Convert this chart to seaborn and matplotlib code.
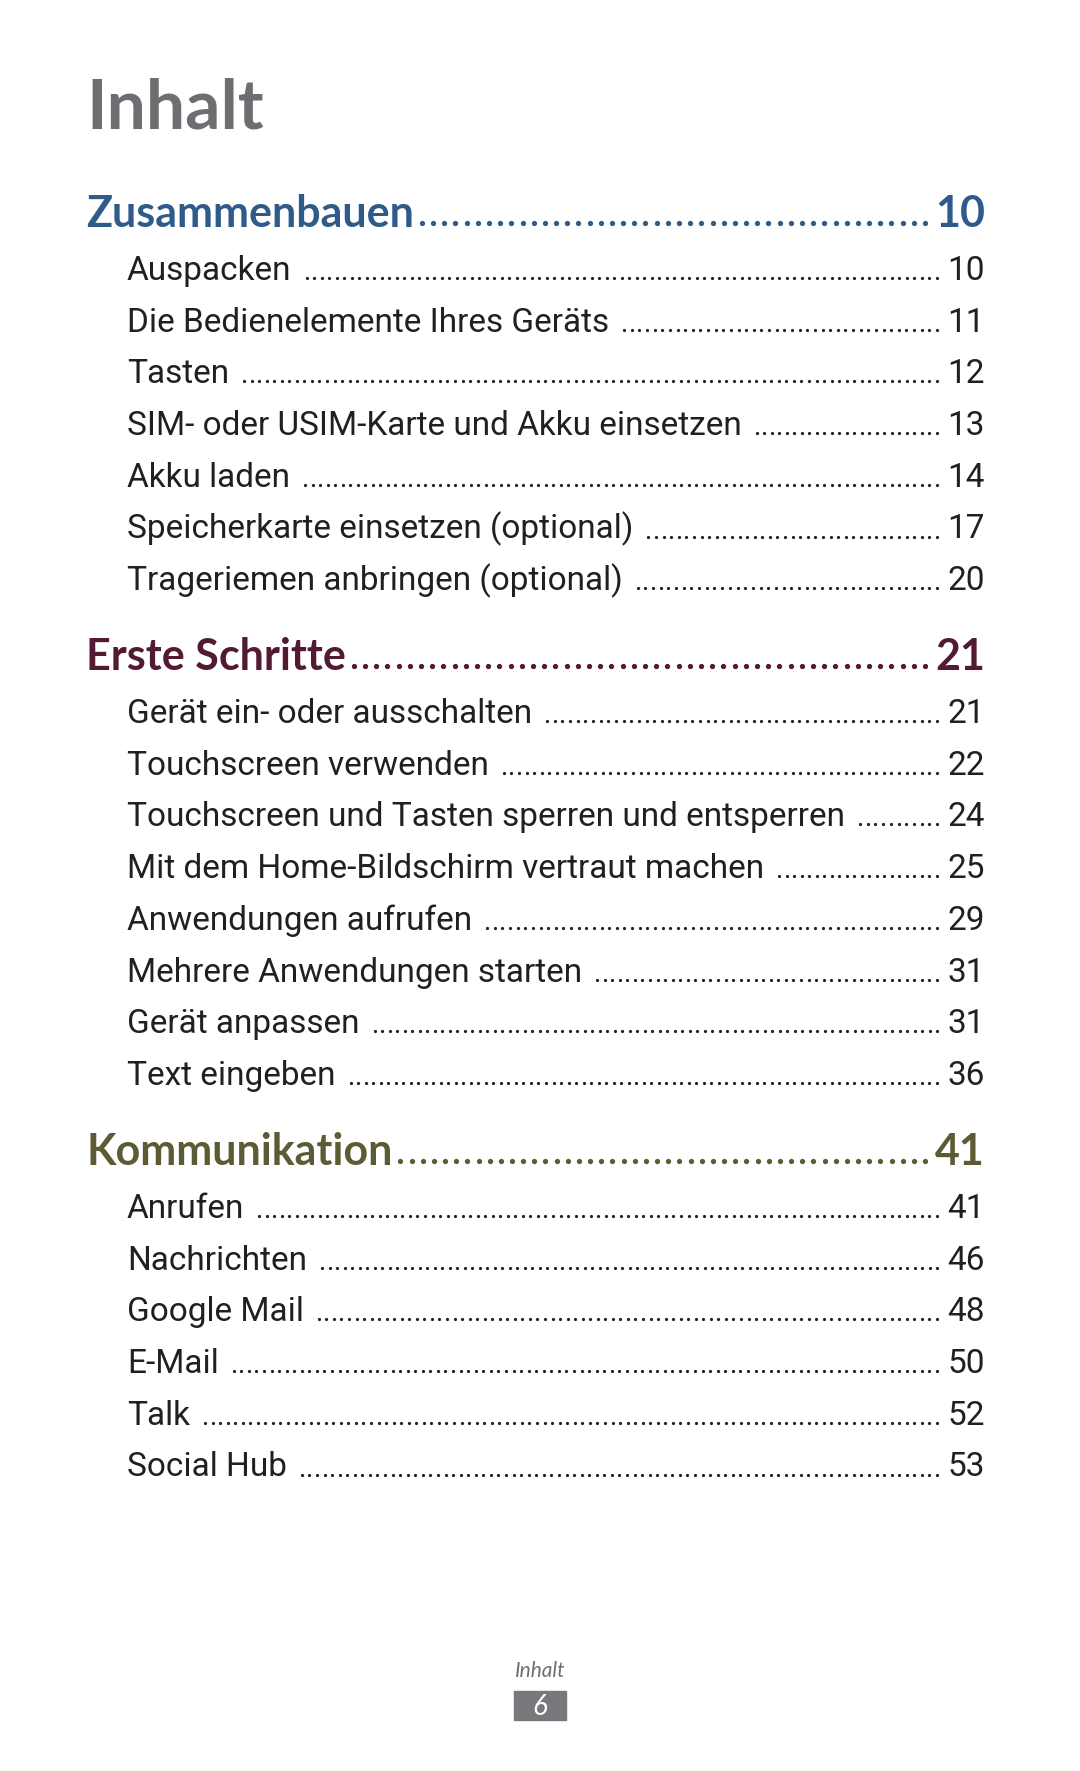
import matplotlib
matplotlib.use("Agg")
import matplotlib.pyplot as plt
import seaborn as sns

sns.set_theme(style="white")
plt.rcParams['font.family'] = ['Lato', 'DejaVu Sans']
entry_font = ['Roboto', 'DejaVu Sans']

# Inhaltsverzeichnis
sections = ["Zusammenbauen", "Erste Schritte", "Kommunikation"]
section_pages = [10, 21, 41]
section_colors = ["#2f5b8b", "#521b33", "#5d5b33"]

entries_1 = ["Auspacken", "Die Bedienelemente Ihres Geräts", "Tasten",
             "SIM- oder USIM-Karte und Akku einsetzen", "Akku laden",
             "Speicherkarte einsetzen (optional)", "Trageriemen anbringen (optional)"]
pages_1 = [10, 11, 12, 13, 14, 17, 20]

entries_2 = ["Gerät ein- oder ausschalten", "Touchscreen verwenden",
             "Touchscreen und Tasten sperren und entsperren",
             "Mit dem Home-Bildschirm vertraut machen", "Anwendungen aufrufen",
             "Mehrere Anwendungen starten", "Gerät anpassen", "Text eingeben"]
pages_2 = [21, 22, 24, 25, 29, 31, 31, 36]

entries_3 = ["Anrufen", "Nachrichten", "Google Mail", "E-Mail", "Talk", "Social Hub"]
pages_3 = [41, 46, 48, 50, 52, 53]

entries = [entries_1, entries_2, entries_3]
pages = [pages_1, pages_2, pages_3]

W, H = 1080, 1771
fig = plt.figure(figsize=(W / 100, H / 100), dpi=100)
ax = fig.add_axes([0, 0, 1, 1])
ax.set_xlim(0, W)
ax.set_ylim(H, 0)
ax.axis("off")
renderer = fig.canvas.get_renderer()

text_col = "#231f20"
x_head, x_entry, x_right = 86, 127, 985


def leader(t, y, gap, end, step, size, color):
    # Punktlinie zwischen Textende und Seitenzahl, gleichmäßig verteilt
    bb = t.get_window_extent(renderer)
    start = bb.x1 + gap
    n = int((end - start) // step) + 1
    if n < 2:
        return
    d = (end - start) / (n - 1)
    xs = [start + k * d for k in range(n)]
    ax.plot(xs, [y] * n, linestyle="none", marker="o",
            markersize=size, color=color, markeredgewidth=0)


ax.text(x_head, 128, "Inhalt", fontsize=50, fontweight="bold",
        color="#6d6e71", va="baseline", ha="left")

head_base = [227, 670, 1165]
row_gap = 51.7
for i, sec in enumerate(sections):
    yb = head_base[i]
    col = section_colors[i]
    t = ax.text(x_head, yb, sec, fontsize=31, fontweight="bold",
                color=col, va="baseline", ha="left")
    ax.text(x_right, yb, str(section_pages[i]), fontsize=31, fontweight="bold",
            color=col, va="baseline", ha="right")
    leader(t, yb - 4, 8, 925, 11, 3.8, col)
    for j, name in enumerate(entries[i]):
        y = yb + 53 + j * row_gap
        t = ax.text(x_entry, y, name, fontsize=24, color=text_col,
                    family=entry_font, va="baseline", ha="left")
        ax.text(x_right, y, str(pages[i][j]), fontsize=24, color=text_col,
                family=entry_font, va="baseline", ha="right")
        leader(t, y - 2, 15, 937, 7.5, 2.3, text_col)

# Fußzeile
ax.text(540, 1677, "Inhalt", fontsize=15, fontstyle="italic",
        color="#6d6e71", va="baseline", ha="center")
ax.add_patch(plt.Rectangle((514, 1691), 52, 29, color="#77787b"))
ax.text(540, 1715, "6", fontsize=20, fontstyle="italic", color="white",
        va="baseline", ha="center")

fig.savefig("out.png", dpi=100)
